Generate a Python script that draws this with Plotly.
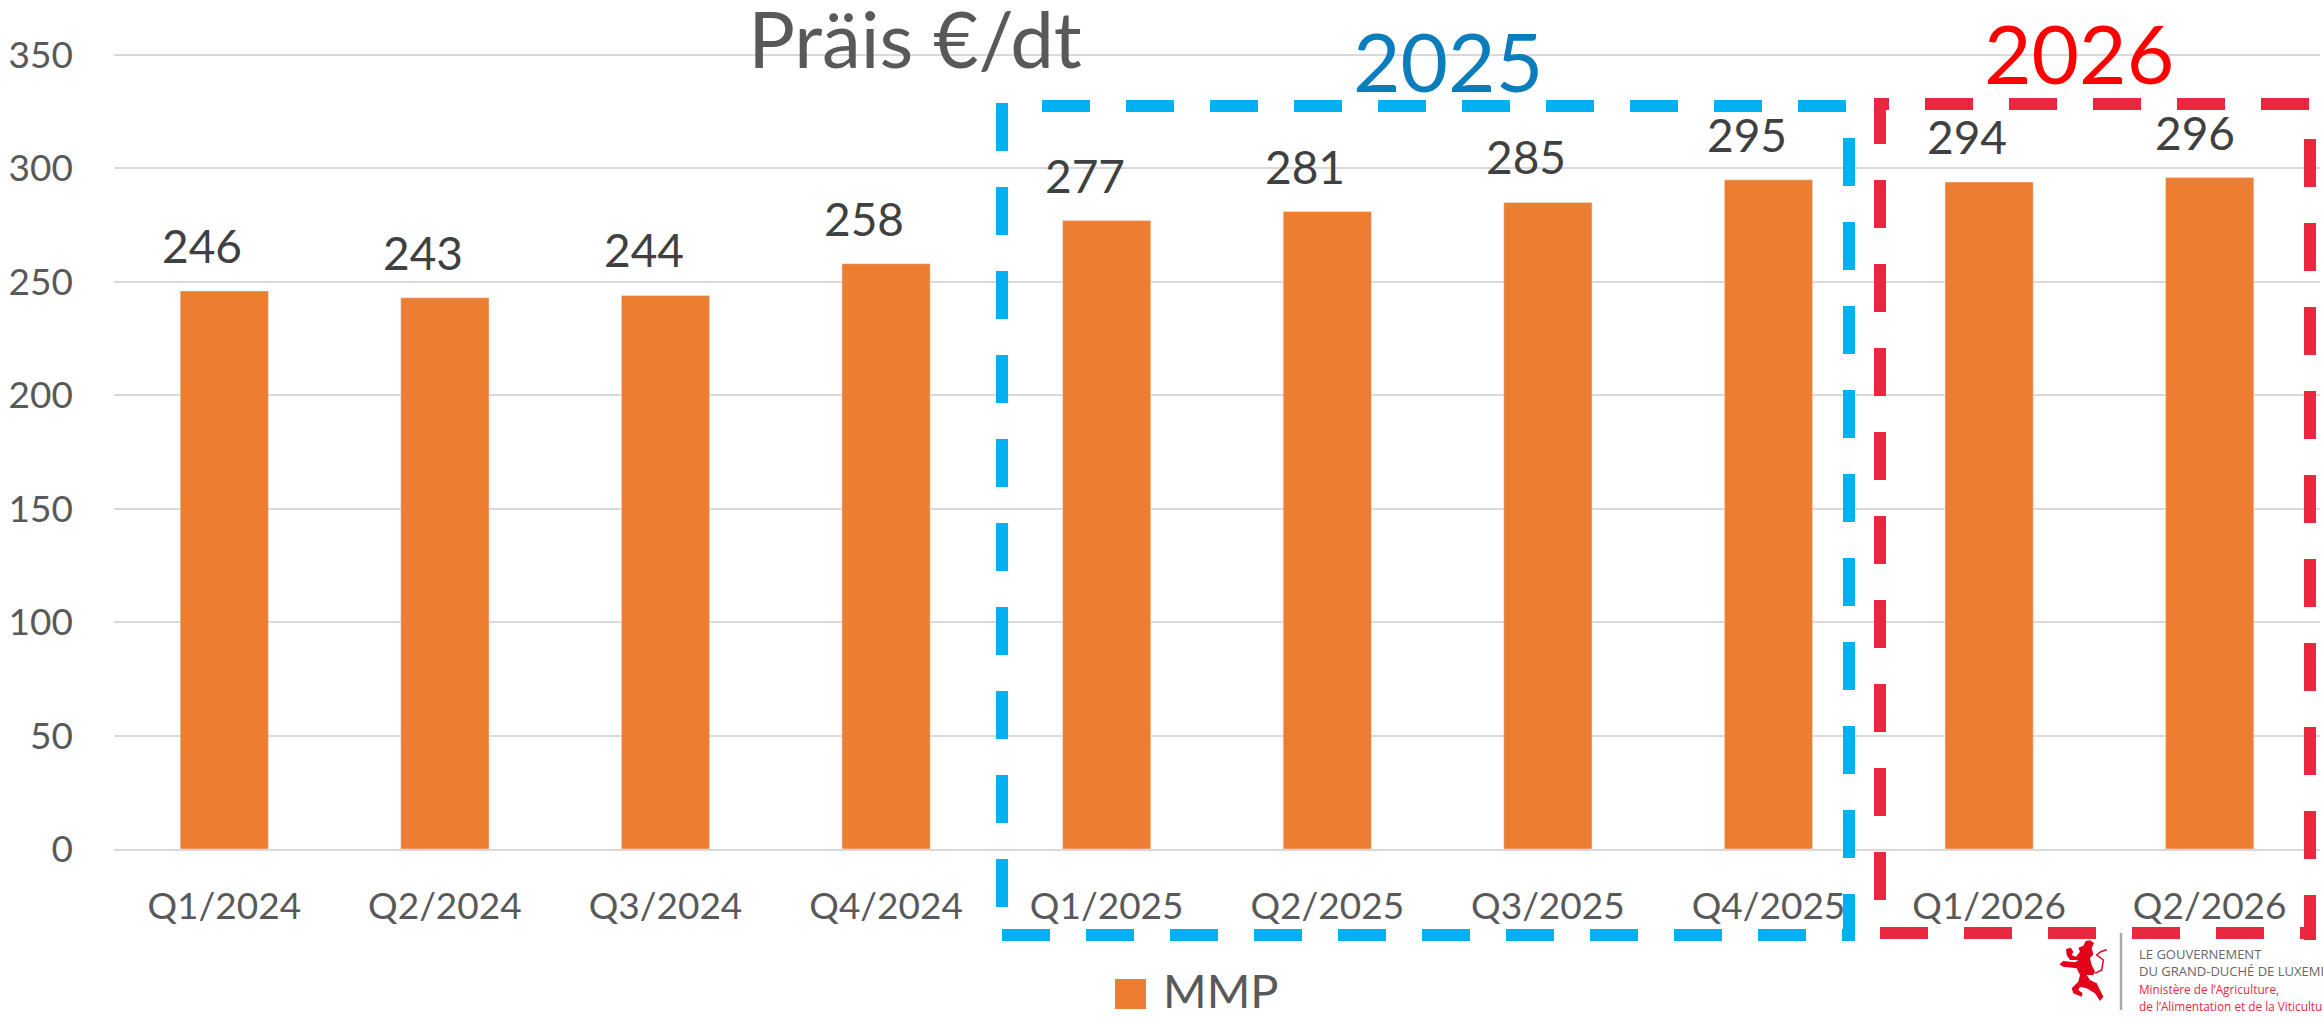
import plotly.graph_objects as go

categories = ["Q1/2024","Q2/2024","Q3/2024","Q4/2024","Q1/2025","Q2/2025","Q3/2025","Q4/2025","Q1/2026","Q2/2026"]
values = [246,243,244,258,277,281,285,295,294,296]
y_ticks = [0,50,100,150,200,250,300,350]
series_name = "MMP"
title_text = "Präis €/dt"

W, H = 2323, 1017
L, R, T, B = 114, 3, 53, 168
Y_MAX = 350.88
FONT = "Lato"
px = lambda x: (x - L) / (W - L - R)
py = lambda y: (H - B - y) / (H - T - B)

fig = go.Figure(go.Bar(x=categories, y=values, name=series_name, marker_color="#ED7D31", width=0.4, showlegend=False))

ann = []
for c, v, s in zip(categories, values, [-22]*9 + [-15]):
    ann.append(dict(x=c, y=v, text=str(v), showarrow=False, xanchor="center", yanchor="bottom",
                    xshift=s, yshift=16, font=dict(family=FONT, size=46, color="#404040")))

def txt(x, y, t, size, color, anchor="center", family=FONT):
    ann.append(dict(xref="paper", yref="paper", x=px(x), y=py(y), text=t, showarrow=False,
                    xanchor=anchor, yanchor="middle", font=dict(family=family, size=size, color=color)))

txt(1448, 60, "2025", 82, "#0A7EBC")
txt(2079, 52, "2026", 82, "#FF0000")
txt(1161, 990, series_name, 47, "#595959", "left")
LOGO = "Open Sans"
txt(2137, 954, "LE GOUVERNEMENT", 13, "#666666", "left", LOGO)
txt(2137, 971, "DU GRAND-DUCHÉ DE LUXEMBOURG", 13, "#666666", "left", LOGO)
txt(2137, 989, "Ministère de l’Agriculture,", 11.8, "#E8293F", "left", LOGO)
txt(2137, 1006, "de l’Alimentation et de la Viticulture", 11.8, "#E8293F", "left", LOGO)

shapes = []
def seg(x0, y0, x1, y1, color, dash="48px,36px"):
    shapes.append(dict(type="line", xref="paper", yref="paper", x0=px(x0), y0=py(y0), x1=px(x1), y1=py(y1),
                       line=dict(color=color, width=12, dash=dash), layer="above"))
BLUE, RED = "#00B0F0", "#E9283F"
seg(1042, 106, 1846, 106, BLUE)
seg(1002, 907, 1002, 100, BLUE)
seg(1002, 935, 1855, 935, BLUE)
seg(1849, 138, 1849, 941, BLUE)
seg(1925, 104, 2310, 104, RED)
seg(1889, 104, 1874, 104, RED, "solid")
seg(1880, 900, 1880, 98, RED)
seg(2310, 139, 2310, 940, RED)
seg(1880, 933, 2316, 933, RED)

shapes.append(dict(type="rect", xref="paper", yref="paper", x0=px(1115), x1=px(1146), y0=py(979), y1=py(1009),
                   fillcolor="#ED7D31", line_width=0))
shapes.append(dict(type="line", xref="paper", yref="paper", x0=px(2121), x1=px(2121), y0=py(933), y1=py(1010),
                   line=dict(color="#AAAAAA", width=2.5)))

# Lion of the government logo, drawn as a freeform path
lx = lambda z: 2040 + z / 3
ly = lambda z: 925 + z / 3
lion = [(78,72),(92,68),(100,80),(95,90),(108,95),(120,80),(115,68),(130,62),(137,48),(150,46),(162,54),(155,70),
        (160,88),(150,100),(155,120),(165,140),(160,150),(140,150),(150,165),(170,175),(190,215),(180,228),(165,205),
        (140,190),(120,185),(115,195),(128,205),(125,215),(100,205),(95,190),(115,170),(120,150),(110,130),(70,125),
        (58,118),(70,108),(105,112),(115,105),(90,105),(80,90)]
path = "M" + " L".join(f"{px(lx(a)):.5f},{py(ly(b)):.5f}" for a, b in lion) + " Z"
shapes.append(dict(type="path", xref="paper", yref="paper", path=path, fillcolor="#E2001A", line_width=0))
tail = [(165,145),(185,135),(190,105),(170,90),(182,80),(200,74)]
path2 = "M" + " L".join(f"{px(lx(a)):.5f},{py(ly(b)):.5f}" for a, b in tail)
shapes.append(dict(type="path", xref="paper", yref="paper", path=path2, line=dict(color="#E2001A", width=1.5)))

fig.update_layout(width=W, height=H, margin=dict(l=L, r=R, t=T, b=B, pad=0), paper_bgcolor="white", plot_bgcolor="white",
                  showlegend=False, annotations=ann, shapes=shapes,
                  title=dict(text=title_text, x=915/W, xanchor="center", y=1-41/H, yanchor="middle", yref="container",
                             font=dict(family=FONT, size=78, color="#595959")),
                  xaxis=dict(type="category", categoryorder="array", categoryarray=categories, showgrid=False,
                             showline=True, linecolor="#D9D9D9", linewidth=2, ticks="", ticklabelstandoff=24,
                             tickfont=dict(family=FONT, size=37, color="#595959")),
                  yaxis=dict(range=[0,Y_MAX], tickvals=y_ticks, showgrid=True, gridcolor="#D9D9D9", gridwidth=2,
                             zeroline=False, showline=False, ticks="", ticklabelstandoff=40,
                             tickfont=dict(family=FONT, size=37, color="#595959")))

fig.write_html("out.html", config={"displayModeBar": False},
               post_script="document.body.style.margin='0';document.body.style.overflow='hidden';")
